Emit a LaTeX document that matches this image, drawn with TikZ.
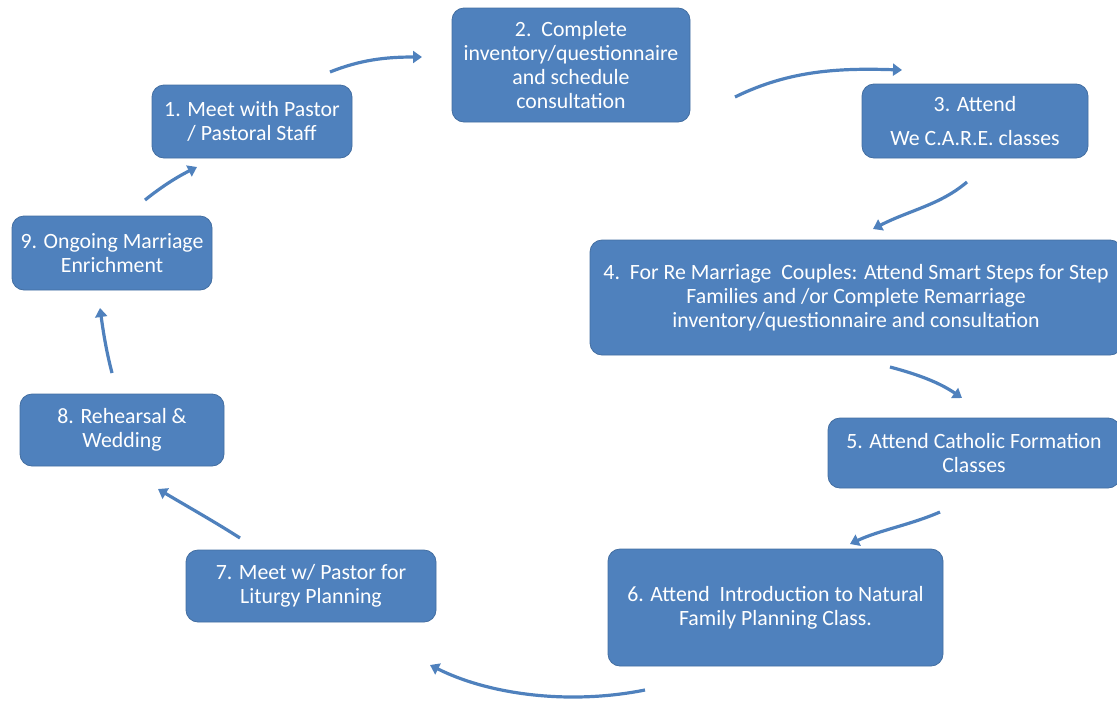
\documentclass[tikz,border=0pt]{standalone}
\usepackage{fontspec}
\setmainfont{Carlito}
\usetikzlibrary{arrows.meta}
\definecolor{boxblue}{HTML}{4F81BD}
\tikzset{
  stepbox/.style={draw=boxblue!85!black, line width=0.8pt, fill=boxblue, rounded corners=12pt, text=white, align=center, inner sep=2pt,
    font=\fontsize{21.8}{24}\selectfont},
  flow/.style={draw=boxblue, line width=3.2pt, -{Triangle[width=12pt,length=9pt]}}
}
\begin{document}
\begin{tikzpicture}[x=1pt,y=-1pt]
\useasboundingbox (0,0) rectangle (1117,702);
\node[stepbox, minimum width=200pt, minimum height=73pt] (n1) at (252,121.5) {1. Meet with Pastor\\/ Pastoral Staff};
\node[stepbox, minimum width=238pt, minimum height=114pt] (n2) at (571,65) {2.\ \ Complete\\inventory/questionnaire\\and schedule\\consultation};
\node[stepbox, minimum width=226pt, minimum height=74pt] (n3) at (975,121) {3. Attend\\[10pt]We C.A.R.E. classes};
\node[stepbox, minimum width=532pt, minimum height=115pt] (n4) at (856,297.5) {4.\ \ For Re Marriage\ \ Couples: Attend Smart Steps for Step\\Families and /or Complete Remarriage\\inventory/questionnaire and consultation};
\node[stepbox, minimum width=292pt, minimum height=70pt] (n5) at (974,453) {5. Attend Catholic Formation\\Classes};
\node[stepbox, minimum width=335pt, minimum height=117pt] (n6) at (775.5,607.5) {6. Attend\ \ Introduction to Natural\\Family Planning Class.};
\node[stepbox, minimum width=250pt, minimum height=72pt] (n7) at (311,586) {7. Meet w/ Pastor for\\Liturgy Planning};
\node[stepbox, minimum width=204pt, minimum height=72pt] (n8) at (122,430) {8. Rehearsal \&\\Wedding};
\node[stepbox, minimum width=200pt, minimum height=74pt] (n9) at (112,253) {9. Ongoing Marriage\\Enrichment};

\coordinate (a1s) at (330,72);  \coordinate (a1e) at (422,57);
\coordinate (a2s) at (735,97);  \coordinate (a2e) at (902,70);
\coordinate (a3s) at (967,182); \coordinate (a3e) at (873,229);
\coordinate (a4s) at (890,367); \coordinate (a4e) at (962,398);
\coordinate (a5s) at (940,512); \coordinate (a5e) at (850,544);
\coordinate (a6s) at (645,690); \coordinate (a6e) at (430,665);
\coordinate (a7s) at (240,538); \coordinate (a7e) at (158,489);
\coordinate (a8s) at (112,373); \coordinate (a8e) at (100,308);
\coordinate (a9s) at (145,200); \coordinate (a9e) at (197,167);

\draw[flow] (a1s) .. controls (360,60) and (385,57) .. (a1e);
\draw[flow] (a2s) .. controls (790,70) and (840,68) .. (a2e);
\draw[flow] (a3s) .. controls (940,205) and (910,210) .. (a3e);
\draw[flow] (a4s) .. controls (920,375) and (940,383) .. (a4e);
\draw[flow] (a5s) .. controls (910,525) and (880,530) .. (a5e);
\draw[flow] (a6s) .. controls (570,705) and (490,695) .. (a6e);
\draw[flow] (a7s) .. controls (215,522) and (190,508) .. (a7e);
\draw[flow] (a8s) .. controls (106,350) and (103,330) .. (a8e);
\draw[flow] (a9s) .. controls (160,188) and (175,178) .. (a9e);
\end{tikzpicture}
\end{document}
